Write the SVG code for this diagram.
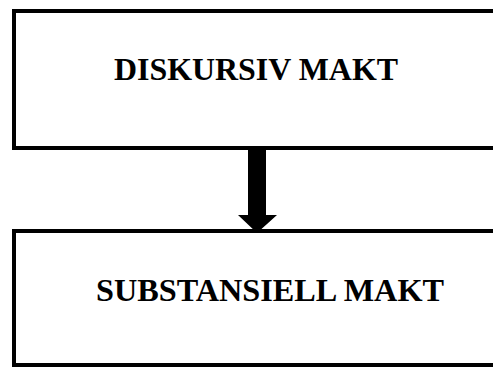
<svg xmlns="http://www.w3.org/2000/svg" width="493" height="368" viewBox="0 0 493 368">
<style>
.box{fill:#fff;stroke:#000;stroke-width:4}
.lbl{font-family:"Liberation Serif","Times New Roman",serif;font-weight:bold;font-size:32.5px;fill:#000}
</style>
<rect width="493" height="368" fill="#fff"/>
<g id="node1">
<rect class="box" x="14" y="11" width="500" height="137"/>
<text class="lbl" x="114" y="80" textLength="284" lengthAdjust="spacingAndGlyphs">DISKURSIV MAKT</text>
</g>
<g id="node2">
<rect class="box" x="14" y="231" width="500" height="134"/>
<text class="lbl" x="96" y="301" textLength="348" lengthAdjust="spacingAndGlyphs">SUBSTANSIELL MAKT</text>
</g>
<g id="connectors">
<polygon points="248,148 266,148 266,215 277,215 257,233 238,215 248,215" fill="#000"/>
</g>
</svg>
